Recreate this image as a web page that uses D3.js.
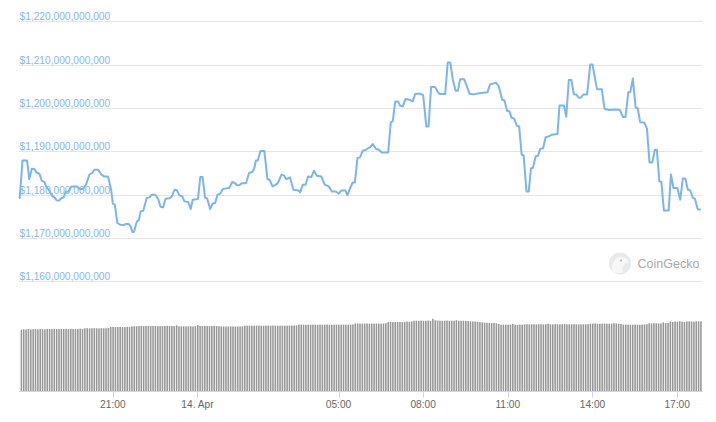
<!DOCTYPE html>
<html>
<head>
<meta charset="utf-8">
<script src="https://cdn.jsdelivr.net/npm/d3@7/dist/d3.min.js"></script>
<style>
  html, body { margin: 0; padding: 0; background: #fff; }
  svg { display: block; }
  text { font-family: "Liberation Sans", Arial, sans-serif; }
</style>
</head>
<body>
<svg id="chart" width="716" height="422"></svg>
<script>
// ---- Data (BTC market cap, USD billions; hours since 13 Apr 2021 00:00) ----
const priceHours = [
  17.70,17.80,17.96,18.04,18.13,18.23,18.30,18.40,18.48,18.58,18.64,18.76,18.86,18.94,19.01,19.09,19.17,19.26,19.33,19.43,
  19.53,19.72,19.84,19.94,20.05,20.17,20.27,20.34,20.48,20.60,20.69,20.83,20.94,21.00,21.07,21.16,21.26,21.38,21.47,21.57,
  21.64,21.69,21.75,21.85,21.92,21.99,22.08,22.20,22.30,22.38,22.51,22.61,22.69,22.78,22.87,23.01,23.09,23.19,23.27,23.36,
  23.46,23.54,23.67,23.76,23.83,24.02,24.10,24.18,24.27,24.34,24.45,24.54,24.63,24.71,24.80,24.90,25.03,25.13,25.23,25.33,
  25.40,25.49,25.58,25.72,25.83,25.94,26.01,26.07,26.14,26.23,26.37,26.48,26.56,26.66,26.78,26.85,26.98,27.07,27.15,27.28,
  27.40,27.58,27.64,27.73,27.83,27.92,28.04,28.13,28.23,28.39,28.51,28.65,28.76,28.91,29.01,29.10,29.24,29.31,29.50,29.58,
  29.67,29.76,29.86,29.98,30.05,30.12,30.21,30.33,30.43,30.53,30.76,30.85,30.92,31.01,31.11,31.18,31.28,31.37,31.51,31.63,
  31.72,31.89,32.00,32.11,32.19,32.28,32.42,32.52,32.58,32.78,32.87,32.96,33.05,33.15,33.23,33.31,33.45,33.54,33.64,33.80,
  33.98,34.28,34.37,34.58,34.68,34.80,34.88,34.97,35.06,35.13,35.22,35.32,35.40,35.49,35.56,35.66,35.74,35.82,35.89,35.99,
  36.07,36.15,36.25,36.34,36.45,36.57,36.76,36.83,36.99,37.07,37.16,37.25,37.34,37.42,37.51,37.59,37.68,37.81,37.92,38.00,
  38.11,38.16,38.33,38.43,38.60,38.77,38.97,39.08,39.17,39.27,39.34,39.43,39.53,39.60,39.69,39.83,39.93,40.02,40.12,40.21,
  40.28,40.37,40.44,40.53,40.70,40.78,40.87,41.01,41.11,41.20,41.29,41.38,41.46,41.56,41.63,41.73,41.81
];
const priceValues = [
  1179.20,1187.88,1187.88,1183.58,1185.96,1185.85,1185.04,1184.81,1183.19,1182.85,1181.81,1180.77,1179.62,1179.27,1178.65,1178.58,1179.15,1179.38,1180.65,1180.72,
  1181.88,1181.88,1181.28,1181.28,1182.27,1184.58,1184.97,1185.73,1185.73,1184.58,1184.18,1184.18,1181.12,1177.88,1177.65,1173.43,1173.04,1172.97,1173.20,1173.20,
  1172.51,1171.35,1171.35,1173.73,1174.03,1176.11,1176.27,1179.20,1179.34,1179.96,1179.96,1178.92,1177.19,1177.03,1179.04,1179.15,1179.57,1181.12,1181.00,1179.80,
  1179.57,1178.42,1178.30,1176.66,1178.81,1178.99,1184.05,1184.05,1179.27,1179.15,1176.66,1177.95,1178.05,1179.96,1180.15,1181.28,1181.42,1181.53,1182.89,1182.66,
  1182.15,1182.20,1182.62,1182.62,1184.97,1185.20,1185.96,1187.85,1187.88,1190.07,1190.07,1183.58,1183.35,1181.88,1182.27,1182.66,1184.58,1184.35,1183.54,1183.95,
  1181.12,1180.95,1180.49,1182.27,1182.27,1184.18,1184.05,1185.50,1184.35,1184.18,1182.27,1181.88,1180.72,1180.72,1180.19,1180.95,1180.95,1179.89,1182.80,1182.80,
  1188.43,1188.57,1190.12,1190.35,1190.74,1190.88,1191.66,1190.51,1190.35,1189.72,1189.72,1196.65,1196.88,1201.49,1201.49,1200.50,1200.34,1202.05,1201.88,1201.49,
  1203.27,1203.27,1202.92,1195.72,1195.72,1204.82,1204.82,1203.62,1203.20,1203.20,1210.49,1210.49,1206.50,1203.96,1203.96,1206.62,1206.62,1205.12,1203.27,1203.11,
  1203.38,1203.62,1205.42,1205.81,1204.95,1201.88,1201.70,1199.35,1199.18,1197.73,1197.57,1195.88,1195.72,1189.19,1189.03,1180.72,1180.72,1186.01,1186.19,1188.85,
  1188.96,1190.53,1190.69,1193.23,1193.42,1193.81,1193.97,1200.55,1200.55,1197.96,1206.43,1206.43,1203.15,1203.11,1202.35,1202.35,1203.11,1203.11,1210.03,1210.03,
  1206.04,1204.31,1204.31,1199.74,1199.51,1199.65,1199.51,1197.89,1197.89,1203.62,1203.62,1206.78,1200.04,1199.97,1196.69,1196.62,1195.26,1187.42,1187.42,1190.35,
  1190.35,1183.03,1182.96,1176.34,1176.34,1184.65,1181.51,1181.51,1178.81,1183.70,1183.70,1181.12,1180.95,1179.20,1179.04,1176.62,1176.55
];
// 24h volume (USD billions), one bar per 5 minutes starting 13 Apr 17:46
const volumeStartHour = 17.76;
const volumeValues = [
  68.1,68.6,68.3,68.9,68.4,68.7,68.9,68.5,69.0,68.8,
  68.6,69.0,68.9,68.7,69.1,68.9,68.8,69.0,68.9,69.0,
  68.8,69.1,68.9,69.0,68.9,69.2,69.0,69.7,69.8,69.6,
  69.7,69.8,69.7,69.6,69.8,69.7,69.7,70.0,71.1,71.3,
  71.0,71.1,71.2,71.0,71.1,71.3,71.2,71.8,72.0,71.9,
  72.1,72.2,72.0,72.3,72.2,72.1,72.2,72.3,72.0,72.2,
  72.1,72.2,72.3,72.2,72.1,72.2,73.0,71.9,71.8,71.9,
  71.7,71.8,71.9,71.8,72.0,73.1,72.2,72.1,72.3,72.2,
  72.1,72.2,72.3,72.2,72.0,71.7,71.8,71.6,71.7,71.8,
  71.7,71.6,71.8,71.7,71.9,72.6,72.6,72.7,72.5,72.6,
  72.7,72.6,72.6,72.5,72.7,72.6,72.6,72.7,72.6,72.5,
  72.6,72.7,72.6,72.6,72.7,72.6,72.8,72.9,73.7,73.8,
  73.7,73.6,73.7,73.8,73.7,73.7,73.6,73.8,73.7,73.7,
  73.8,73.7,73.6,73.7,73.8,73.7,73.7,73.8,73.7,73.6,
  73.8,74.0,74.9,75.0,74.8,74.9,74.9,75.0,74.8,74.9,
  74.9,75.0,74.9,74.8,75.0,75.3,76.5,76.8,76.6,76.7,
  76.8,76.7,76.6,76.8,77.2,76.9,77.3,78.0,78.1,77.9,
  78.2,78.0,78.1,78.3,78.0,80.3,78.6,78.3,78.1,78.0,
  78.1,78.2,78.0,78.1,78.0,78.6,78.1,78.0,78.1,77.9,
  77.8,77.4,77.3,77.2,77.0,76.5,76.2,76.0,75.8,75.6,
  75.4,75.6,75.2,74.5,73.7,73.8,73.6,73.7,73.8,74.6,
  73.7,73.6,73.8,73.7,74.1,74.2,74.0,74.1,74.1,74.0,
  74.2,74.1,74.0,74.1,74.6,74.1,74.0,74.3,74.1,74.0,
  74.2,74.6,74.1,74.0,74.1,74.2,74.1,74.0,74.2,74.1,
  74.1,74.3,74.8,74.9,75.1,74.8,74.7,74.8,74.9,74.8,
  74.7,74.8,75.2,75.0,74.8,74.6,73.7,73.8,73.7,73.6,
  73.7,73.8,73.7,73.6,73.8,74.0,74.2,75.2,75.1,75.3,
  75.2,75.0,75.2,76.3,75.4,75.6,77.0,76.6,77.2,77.0,
  77.3,77.1,76.8,77.2,77.4,77.3,77.0,77.5,77.4,77.3
];
const yTickValues = [1160, 1170, 1180, 1190, 1200, 1210, 1220];
const xTickHours = [21, 24, 29, 32, 35, 38, 41];
const xTickLabels = ["21:00", "14. Apr", "05:00", "08:00", "11:00", "14:00", "17:00"];
const watermarkText = "CoinGecko";

// ---- Helpers ----
const base = Date.UTC(2021, 3, 13, 0, 0, 0);
const t = h => new Date(base + h * 3600 * 1000);

const svg = d3.select("#chart");

const x = d3.scaleUtc()
  .domain([t(17.70), t(41.92)])
  .range([19.7, 703.1]);

const y = d3.scaleLinear().domain([1160, 1220]).range([281.2, 21.2]);
const yVol = d3.scaleLinear().domain([0, 90]).range([391, 310]);

const fmt = d3.format("$,.0f");

// Gridlines + labels
const grid = svg.append("g");
grid.selectAll("line").data(yTickValues).join("line")
  .attr("x1", 19).attr("x2", 702.5)
  .attr("y1", d => Math.round(y(d)) + 0.5).attr("y2", d => Math.round(y(d)) + 0.5)
  .attr("stroke", "#e6e6e6").attr("stroke-width", 1);
grid.selectAll("text").data(yTickValues).join("text")
  .attr("x", 19.5).attr("y", d => Math.round(y(d)) - 1.5)
  .attr("font-size", "10.2px").attr("fill", "#86b6ee")
  .text(d => fmt(d * 1e9));

// Watermark
const wm = svg.append("g").attr("opacity", 1);
wm.append("circle").attr("cx", 620).attr("cy", 263.5).attr("r", 11).attr("fill", "#e9e9e9");
wm.append("path")
  .attr("d", "M612,273 C611,266 613,258 620,257 C625,256.5 628,259 629,262 L625,264 C623,265 622,268 623,273 Z")
  .attr("fill", "#f7f7f7");
wm.append("circle").attr("cx", 621).attr("cy", 260.5).attr("r", 1.1).attr("fill", "#b5b5b5");
wm.append("text").attr("x", 637.5).attr("y", 268).attr("font-size", "12.5px")
  .attr("fill", "#a9a9a9").text(watermarkText);

// Volume bars
const step = x(t(5 / 60)) - x(t(0));
const bw = step - 0.8;
svg.append("g").selectAll("rect").data(volumeValues).join("rect")
  .attr("x", (d, i) => x(t(volumeStartHour + i * 5 / 60)) - bw / 2)
  .attr("width", bw)
  .attr("y", d => yVol(d))
  .attr("height", d => yVol(0) - yVol(d))
  .attr("fill", "#969696");

// Price line
const pts = priceHours.map((h, i) => [h, priceValues[i]]);
const line = d3.line().x(d => x(t(d[0]))).y(d => y(d[1]));
svg.append("path").datum(pts)
  .attr("d", line)
  .attr("fill", "none")
  .attr("stroke", "#7cb5ec")
  .attr("stroke-width", 2)
  .attr("stroke-linejoin", "round")
  .attr("stroke-linecap", "round");

// X axis
const axisG = svg.append("g");
axisG.append("line")
  .attr("x1", 19).attr("x2", 703).attr("y1", 391.5).attr("y2", 391.5)
  .attr("stroke", "#ccd6eb").attr("stroke-width", 1);
const ticks = xTickHours.map((h, i) => ({ h, label: xTickLabels[i] }));
axisG.selectAll("line.tick").data(ticks).join("line").attr("class", "tick")
  .attr("x1", d => Math.round(x(t(d.h))) + 0.5).attr("x2", d => Math.round(x(t(d.h))) + 0.5)
  .attr("y1", 391.5).attr("y2", 397.5)
  .attr("stroke", "#ccd6eb").attr("stroke-width", 1);
axisG.selectAll("text").data(ticks).join("text")
  .attr("x", d => x(t(d.h))).attr("y", 407.5)
  .attr("text-anchor", "middle")
  .attr("font-size", "10.2px").attr("fill", "#666666")
  .text(d => d.label);
</script>
</body>
</html>
